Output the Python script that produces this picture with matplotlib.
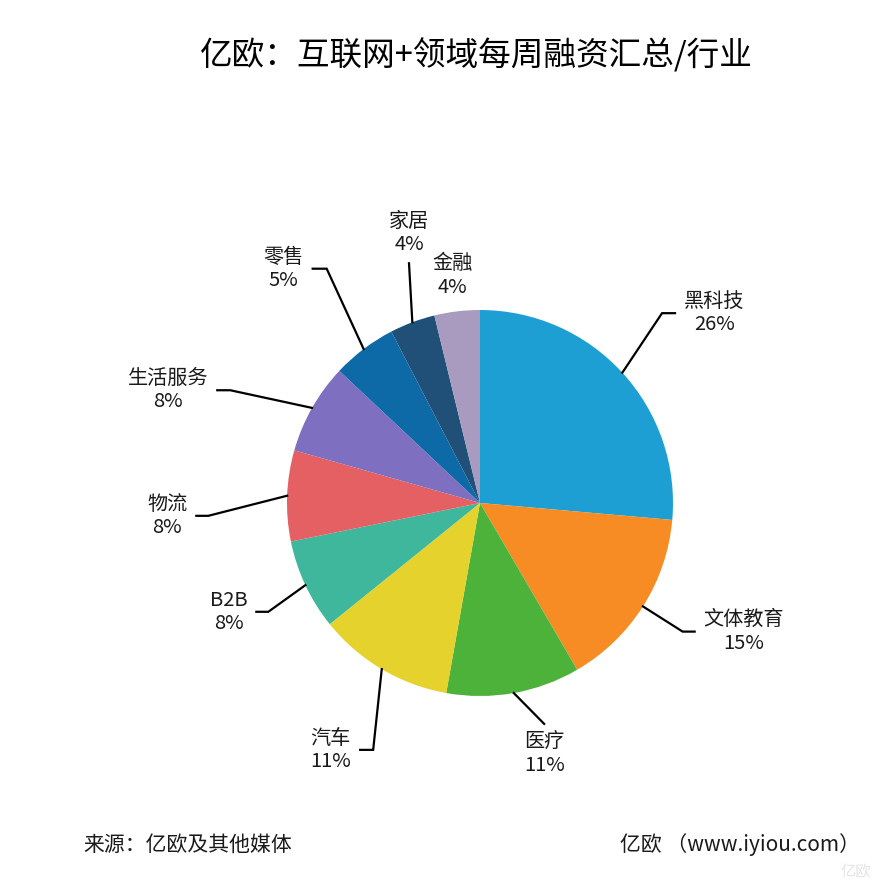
import numpy as np
import matplotlib
matplotlib.use('Agg')
import matplotlib.pyplot as plt

plt.rcParams['font.family'] = ['Noto Sans CJK SC', 'DejaVu Sans']

# ---- data ----
categories = ['黑科技', '文体教育', '医疗', '汽车', 'B2B', '物流', '生活服务', '零售', '家居', '金融']
shares = [26.4, 15.2, 11.2, 11.4, 7.6, 7.6, 7.6, 5.4, 3.8, 3.8]
colors = ['#1e9fd3', '#f68c23', '#4cb23a', '#e6d22d', '#3fb79c',
          '#e46062', '#7e6fc0', '#0e6aa7', '#204f78', '#a89bbf']

title = '亿欧：互联网+领域每周融资汇总/行业'
source = '来源：亿欧及其他媒体'
credit = '亿欧 （www.iyiou.com）'

# ---- layout (pixel units) ----
W, H = 886, 888
cx, cy, R = 480, H - 503, 193
# elbow radius, elbow angle, horizontal tail, label placement
leader = {
    '黑科技':   (263, 46.2, 13, 'right'),
    '文体教育': (240, -32.4, 12, 'right'),
    '医疗':     (230, -73.8, 0, 'below'),
    '汽车':     (269, -113.4, -13, 'left'),
    'B2B':      (238, -152.8, -12, 'left'),
    '物流':     (272, -177.3, -12, 'left'),
    '生活服务': (274, 155.7, -13, 'left'),
    '零售':     (280, 123.2, -14, 'left'),
    '家居':     (250, 106.5, 0, 'above'),
    '金融':     (229, None, 0, 'center'),
}

fig = plt.figure(figsize=(W / 100, H / 100), dpi=100)
ax = fig.add_axes([0, 0, 1, 1])
wedges, _ = ax.pie(shares, colors=colors, startangle=90, counterclock=False,
                   center=(cx, cy), radius=R,
                   wedgeprops=dict(linewidth=0))
ax.set_xlim(0, W)
ax.set_ylim(0, H)
ax.set_aspect('equal')
ax.axis('off')

fs = 14.5
for w, name, val in zip(wedges, categories, shares):
    mid = np.deg2rad((w.theta1 + w.theta2) / 2)
    label = f'{name}\n{val:.0f}%'
    er, ea, tail, side = leader[name]
    if ea is None:
        tx, ty = cx + er * np.cos(mid), cy + er * np.sin(mid)
        ax.text(tx, ty, label, ha='center', va='center', fontsize=fs,
                linespacing=1.15, color='#1a1a1a')
        continue
    x0, y0 = cx + R * np.cos(mid), cy + R * np.sin(mid)
    ex, ey = cx + er * np.cos(np.deg2rad(ea)), cy + er * np.sin(np.deg2rad(ea))
    tx = ex + tail
    ax.plot([x0, ex, tx], [y0, ey, ey], color='black', lw=1.6,
            solid_joinstyle='miter', zorder=3)
    if side == 'right':
        ax.text(tx + 9, ey, label, ha='left', va='center', fontsize=fs,
                multialignment='center', linespacing=1.15, color='#1a1a1a')
    elif side == 'left':
        ax.text(tx - 9, ey, label, ha='right', va='center', fontsize=fs,
                multialignment='center', linespacing=1.15, color='#1a1a1a')
    elif side == 'below':
        ax.text(tx, ey - 8, label, ha='center', va='top', fontsize=fs,
                multialignment='center', linespacing=1.15, color='#1a1a1a')
    else:
        ax.text(tx, ey + 8, label, ha='center', va='bottom', fontsize=fs,
                multialignment='center', linespacing=1.15, color='#1a1a1a')

ax.text(476, H - 55, title, ha='center', va='center', fontsize=23.5, color='black')
ax.text(83, H - 845, source, ha='left', va='center', fontsize=15, color='#1a1a1a')
ax.text(860, H - 845, credit, ha='right', va='center', fontsize=15, color='#1a1a1a')
ax.text(856, H - 872, '亿欧', ha='center', va='center', fontsize=11, color='#e4e4e4', zorder=0)

fig.savefig('out.png', dpi=100, facecolor='white')
